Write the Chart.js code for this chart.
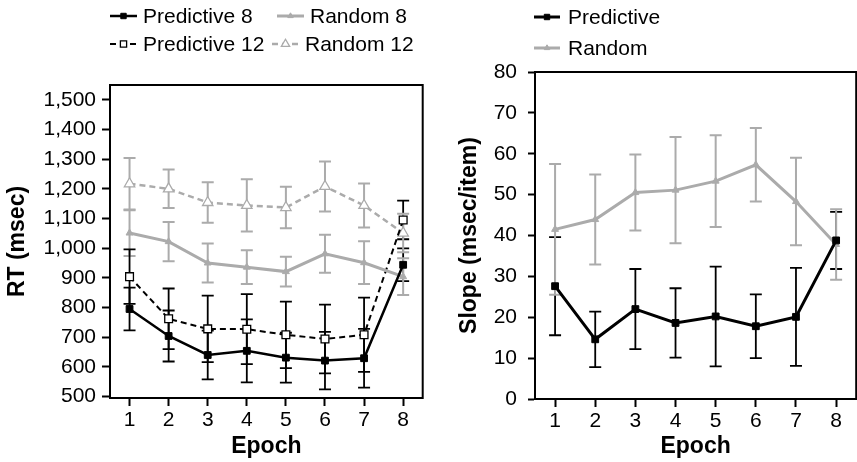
<!DOCTYPE html>
<html>
<head>
<meta charset="utf-8">
<script src="https://cdn.jsdelivr.net/npm/chart.js@4.4.1/dist/chart.umd.min.js"></script>
<style>
  html, body { margin: 0; padding: 0; background: #fff; overflow: hidden; }
  #wrap { position: relative; width: 857px; height: 462px; overflow: hidden; }
  #rtChart { position: absolute; left: 0; top: 0; width: 430px; height: 462px; }
  #slopeChart { position: absolute; left: 430px; top: 0; width: 432px; height: 462px; }
</style>
</head>
<body>
<div id="wrap">
  <canvas id="rtChart" width="430" height="462"></canvas>
  <canvas id="slopeChart" width="432" height="462"></canvas>
</div>
<script>
// data
const epochs = [1, 2, 3, 4, 5, 6, 7, 8];
const rtTicks = [500, 600, 700, 800, 900, 1000, 1100, 1200, 1300, 1400, 1500];
const slopeTicks = [0, 10, 20, 30, 40, 50, 60, 70, 80];

const pred8RT   = [795, 704, 640, 654, 631, 621, 629, 944];
const pred8Err  = [72, 86, 82, 106, 84, 97, 99, 55];
const rand8RT   = [1051, 1022, 950, 936, 921, 981, 951, 904];
const rand8Err  = [77, 66, 66, 57, 50, 64, 72, 62];
const pred12RT  = [904, 762, 728, 727, 708, 694, 708, 1095];
const pred12Err = [92, 102, 112, 118, 112, 116, 125, 65];
const rand12RT  = [1217, 1200, 1154, 1144, 1137, 1208, 1144, 1051];
const rand12Err = [87, 65, 68, 88, 70, 84, 74, 65];

const predSlope    = [27.6, 14.6, 22.0, 18.6, 20.2, 17.8, 20.1, 38.8];
const predSlopeErr = [12, 6.8, 9.8, 8.5, 12.2, 7.8, 12, 7];
const randSlope    = [41.5, 43.9, 50.5, 51.1, 53.3, 57.3, 48.3, 37.8];
const randSlopeErr = [16, 11, 9.3, 13, 11.2, 9, 10.7, 8.6];

const GRAY = '#ababab';

Chart.defaults.font.family = '"Liberation Sans", Arial, Helvetica, sans-serif';
Chart.defaults.color = '#000';

const pts = vals => epochs.map((e, i) => ({ x: e, y: vals[i] }));

// error bars, drawn under the lines
const errorBars = {
  id: 'errorBars',
  beforeDatasetsDraw(chart) {
    const { ctx, scales: { x, y } } = chart;
    chart.data.datasets.forEach((ds, i) => {
      if (!ds.errors) return;
      ctx.save();
      ctx.setLineDash([]);
      ctx.strokeStyle = ds.borderColor;
      ctx.lineWidth = ds.errorWidth || 1.8;
      ds.data.forEach((p, j) => {
        const px = x.getPixelForValue(p.x);
        const top = y.getPixelForValue(p.y + ds.errors[j]);
        const bot = y.getPixelForValue(p.y - ds.errors[j]);
        const cap = 6;
        ctx.beginPath();
        ctx.moveTo(px, top); ctx.lineTo(px, bot);
        ctx.moveTo(px - cap, top); ctx.lineTo(px + cap, top);
        ctx.moveTo(px - cap, bot); ctx.lineTo(px + cap, bot);
        ctx.stroke();
      });
      ctx.restore();
    });
  }
};

// top + right edge of the box
const frame = {
  id: 'frame',
  afterDraw(chart) {
    const { ctx, chartArea: { left, right, top, bottom } } = chart;
    ctx.save();
    ctx.strokeStyle = '#000';
    ctx.lineWidth = 2;
    ctx.beginPath();
    ctx.moveTo(left - 1, top);
    ctx.lineTo(right, top);
    ctx.lineTo(right, bottom + 1);
    ctx.stroke();
    ctx.restore();
  }
};

// legend laid out in rows like the original
const legendRows = {
  id: 'legendRows',
  afterDraw(chart, args, opts) {
    const { ctx } = chart;
    opts.items.forEach((pos, i) => {
      const ds = chart.data.datasets[i];
      const [lx, ly] = pos;
      ctx.save();
      ctx.strokeStyle = ds.borderColor;
      ctx.lineWidth = ds.borderWidth;
      ctx.setLineDash(ds.borderDash || []);
      ctx.beginPath();
      ctx.moveTo(lx, ly);
      ctx.lineTo(lx + opts.sample, ly);
      ctx.stroke();
      ctx.setLineDash([]);
      ctx.fillStyle = ds.pointBackgroundColor;
      ctx.strokeStyle = ds.pointBorderColor;
      ctx.lineWidth = ds.pointBorderWidth;
      Chart.helpers.drawPoint(ctx, {
        pointStyle: ds.pointStyle,
        radius: ds.pointRadius * 0.8,
        borderWidth: ds.pointBorderWidth,
        rotation: 0
      }, lx + opts.sample / 2, ly);
      ctx.fillStyle = '#000';
      ctx.font = '21px "Liberation Sans", Arial, sans-serif';
      ctx.textBaseline = 'middle';
      ctx.textAlign = 'left';
      ctx.fillText(ds.label, lx + opts.textGap, ly + 1);
      ctx.restore();
    });
  }
};

function xScale(height) {
  return {
    type: 'linear',
    min: 0.5,
    max: 8.5,
    afterBuildTicks: s => { s.ticks = epochs.map(v => ({ value: v })); },
    afterFit: s => { s.height = height; },
    grid: { drawOnChartArea: false, tickLength: 8, tickWidth: 2, tickColor: '#000' },
    border: { color: '#000', width: 2 },
    ticks: { color: '#000', font: { size: 21 }, padding: 2 },
    title: { display: true, text: 'Epoch', color: '#000', font: { size: 23, weight: 'bold' }, padding: { top: 0, bottom: 2 } }
  };
}

function yScale(min, max, tickVals, width, title, titlePad, tickLen, tickPad, fmt) {
  return {
    min: min,
    max: max,
    afterBuildTicks: s => { s.ticks = tickVals.map(v => ({ value: v })); },
    afterFit: s => { s.width = width; },
    grid: { drawOnChartArea: false, tickLength: tickLen, tickWidth: 2, tickColor: '#000' },
    border: { color: '#000', width: 2 },
    ticks: { color: '#000', font: { size: 21 }, padding: tickPad, callback: fmt },
    title: { display: true, text: title, color: '#000', font: { size: 23, weight: 'bold' }, padding: { top: titlePad, bottom: 0 } }
  };
}

function line(label, vals, errs, opts) {
  return Object.assign({
    label: label,
    data: pts(vals),
    errors: errs,
    tension: 0,
    fill: false,
    pointBorderWidth: 1
  }, opts);
}

// RT chart
new Chart(document.getElementById('rtChart'), {
  type: 'line',
  data: {
    datasets: [
      line('Predictive 8', pred8RT, pred8Err, {
        borderColor: '#000', borderWidth: 2.5,
        pointStyle: 'rect', pointRadius: 4.8, pointBackgroundColor: '#000', pointBorderColor: '#000'
      }),
      line('Random 8', rand8RT, rand8Err, {
        borderColor: GRAY, borderWidth: 3, errorWidth: 2,
        pointStyle: 'triangle', pointRadius: 4, pointBackgroundColor: GRAY, pointBorderColor: GRAY
      }),
      line('Predictive 12', pred12RT, pred12Err, {
        borderColor: '#000', borderWidth: 2, borderDash: [6, 4],
        pointStyle: 'rect', pointRadius: 5.5, pointBackgroundColor: '#fff', pointBorderColor: '#000', pointBorderWidth: 1.3
      }),
      line('Random 12', rand12RT, rand12Err, {
        borderColor: GRAY, borderWidth: 2.5, borderDash: [6, 4], errorWidth: 2,
        pointStyle: 'triangle', pointRadius: 6, pointBackgroundColor: '#fff', pointBorderColor: GRAY, pointBorderWidth: 1.3
      })
    ]
  },
  options: {
    responsive: false,
    animation: false,
    events: [],
    layout: { padding: { top: 85, right: 7, left: 0, bottom: 0 } },
    plugins: {
      legend: { display: false },
      tooltip: { enabled: false },
      legendRows: { items: [[110, 16], [277, 16], [110, 44], [272, 44]], sample: 27, textGap: 33 }
    },
    scales: {
      x: xScale(64),
      y: yScale(495, 1550, rtTicks, 110, 'RT (msec)', 4, 8, 6, v => v.toLocaleString('en-US'))
    }
  },
  plugins: [errorBars, frame, legendRows]
});

// slope chart
new Chart(document.getElementById('slopeChart'), {
  type: 'line',
  data: {
    datasets: [
      line('Predictive', predSlope, predSlopeErr, {
        borderColor: '#000', borderWidth: 3,
        pointStyle: 'rect', pointRadius: 4.8, pointBackgroundColor: '#000', pointBorderColor: '#000'
      }),
      line('Random', randSlope, randSlopeErr, {
        borderColor: GRAY, borderWidth: 3, errorWidth: 2,
        pointStyle: 'triangle', pointRadius: 4, pointBackgroundColor: GRAY, pointBorderColor: GRAY
      })
    ]
  },
  options: {
    responsive: false,
    animation: false,
    events: [],
    layout: { padding: { top: 72, right: 0, left: 0, bottom: 0 } },
    plugins: {
      legend: { display: false },
      tooltip: { enabled: false },
      legendRows: { items: [[104, 17], [104, 48]], sample: 26, textGap: 34 }
    },
    scales: {
      x: xScale(63),
      y: yScale(0, 80, slopeTicks, 105, 'Slope (msec/item)', 26, 7, 11, v => v)
    }
  },
  plugins: [errorBars, frame, legendRows]
});
</script>
</body>
</html>
